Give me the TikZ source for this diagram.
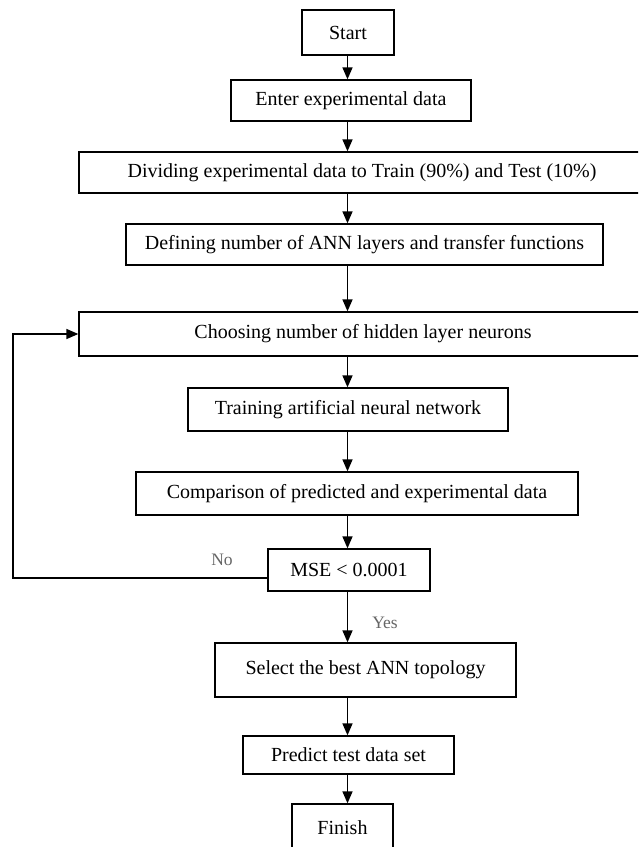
\documentclass[tikz,border=0pt]{standalone}
\usepackage{fontspec}
\setmainfont{Liberation Serif}
\usetikzlibrary{arrows.meta}
\begin{document}
\begin{tikzpicture}[x=1pt,y=-1pt,
  box/.style={draw=black,line width=1.3pt,inner sep=0pt,align=center,
    font=\fontsize{20}{24}\selectfont},
  arr/.style={draw=black,line width=1.4pt,-{Triangle[length=12pt,width=10pt]}},
  lbl/.style={text=black!60,font=\fontsize{17.5}{20}\selectfont,inner sep=0pt}]
\clip (0,0) rectangle (638,847);
\fill[white] (0,0) rectangle (638,847);
\coordinate (spine) at (347.5,0);
\node[box,minimum width=92pt,minimum height=45pt] (start) at (348,32.5) {Start};
\node[box,minimum width=240pt,minimum height=41pt] (enter) at (351,100.5) {Enter experimental data};
\node[box,minimum width=566pt,minimum height=41pt] (divide) at (362,172.5) {Dividing experimental data to Train (90\%) and Test (10\%)};
\node[box,minimum width=477pt,minimum height=41pt] (define) at (364.5,244.5) {Defining number of ANN layers and transfer functions};
\node[box,minimum width=568pt,minimum height=44pt] (choose) at (363,334) {Choosing number of hidden layer neurons};
\node[box,minimum width=320pt,minimum height=43pt] (train) at (348,409.5) {Training artificial neural network};
\node[box,minimum width=442pt,minimum height=43pt] (compare) at (357,493.5) {Comparison of predicted and experimental data};
\node[box,minimum width=162pt,minimum height=42pt] (mse) at (349,570) {MSE < 0.0001};
\node[box,minimum width=301pt,minimum height=54pt] (select) at (365.5,670) {Select the best ANN topology};
\node[box,minimum width=211pt,minimum height=38pt] (predict) at (348.5,755) {Predict test data set};
\node[box,minimum width=101pt,minimum height=48pt] (finish) at (342.5,828) {Finish};
\draw[arr] (start.south -| spine) -- (enter.north -| spine);
\draw[arr] (enter.south -| spine) -- (divide.north -| spine);
\draw[arr] (divide.south -| spine) -- (define.north -| spine);
\draw[arr] (define.south -| spine) -- (choose.north -| spine);
\draw[arr] (choose.south -| spine) -- (train.north -| spine);
\draw[arr] (train.south -| spine) -- (compare.north -| spine);
\draw[arr] (compare.south -| spine) -- (mse.north -| spine);
\draw[arr] (mse.south -| spine) -- (select.north -| spine);
\draw[arr] (select.south -| spine) -- (predict.north -| spine);
\draw[arr] (predict.south -| spine) -- (finish.north -| spine);
\coordinate (loopx) at (13,0);
\draw[arr] ([yshift=-8pt]mse.west) -| (loopx |- choose.west) -- (choose.west);
\node[lbl] (no) at (222,560) {No};
\node[lbl] (yes) at (385,623) {Yes};
\end{tikzpicture}
\end{document}
